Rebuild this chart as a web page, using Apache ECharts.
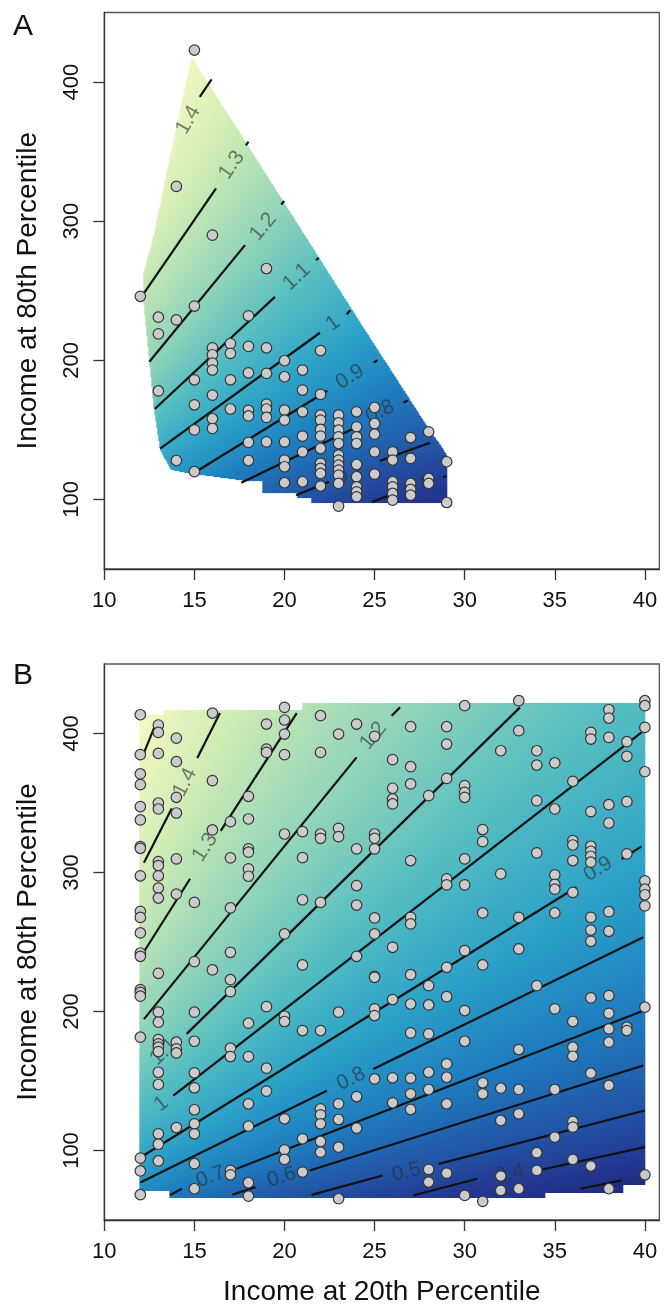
<!DOCTYPE html>
<html>
<head>
<meta charset="utf-8">
<script src="https://cdn.jsdelivr.net/npm/echarts@6/dist/echarts.min.js"></script>
<style>
  html, body { margin: 0; padding: 0; background: #fff; }
  #chart { width: 671px; height: 1310px; }
</style>
</head>
<body>
<div id="chart"></div>
<script>
"use strict";

// axis ticks
const xTicks = [10, 15, 20, 25, 30, 35, 40];
const yTicks = [100, 200, 300, 400];

// ---- panel A ----
const levelsA = [0.6, 0.7, 0.8, 0.9, 1.0, 1.1, 1.2, 1.3, 1.4];
// drawn contour pieces per level (gaps are where the labels sit)
const linesA = [
  [[[24.84, 98.2], [25.86, 103.1]], [[28.8, 116], [28.98, 116.8]]],
  [[[20.64, 103.1], [22.49, 112.7]], [[25.3, 127.7], [28.07, 140.7]]],
  [[[17.6, 112], [24.04, 152.2]], [[26.6, 169.6], [26.85, 171.1]]],
  [[[14.9, 118.5], [22.38, 178.1]], [[24.95, 198.3], [25.15, 200.2]]],
  [[[13.1, 136.6], [21.97, 219.8]], [[23.45, 233], [23.65, 236]]],
  [[[12.8, 165], [19.47, 245.6]], [[21.75, 272], [21.9, 273.6]]],
  [[[12.5, 199], [17.81, 282.8]], [[19.82, 312], [19.98, 314.5]]],
  [[[12.07, 245.7], [16.2, 323.6]], [[17.86, 354.5], [18.0, 357.2]]],
  [[[15.3, 389.4], [15.95, 402]]]
];
const labelsA = [[27.43, 109.1], [23.64, 118.7], [25.3, 163], [23.64, 188.1], [22.7, 226.5],
                 [20.68, 260], [18.82, 296], [17.07, 340.3], [14.66, 372.7]];
// outline of the shaded surface
const regionA = [[14.85, 418], [24.47, 221.7], [28.17, 147.4], [28.6, 140], [29.05, 131], [29.05, 96.8],
  [21.5, 96.8], [21.5, 100.5], [20.7, 100.5], [20.7, 104.4], [18.75, 104.4], [18.75, 112.7], [18.0, 112.7],
  [14.5, 118.8], [13.7, 121], [13.1, 135], [12.75, 165], [12.45, 205], [12.15, 245], [12.15, 262],
  [12.73, 289], [13.65, 346.5]];
// observed places, by 20th percentile income
const colsA = [
  [12, [246]],
  [13, [231, 219, 178]],
  [14, [325, 229, 128]],
  [15, [423, 239, 186, 168, 150, 120]],
  [16, [290, 209, 204, 198, 193, 175, 158, 151]],
  [17, [212, 205, 186, 165]],
  [18, [232, 210, 191, 164, 160, 141, 128]],
  [19, [266, 209, 190.6, 168.5, 165, 159, 141.4]],
  [20, [199.7, 188.2, 164.2, 157, 141.4, 128.3, 123.5, 112]],
  [21, [193, 178.6, 163, 145.5, 134.2, 112.7]],
  [22, [207, 175.5, 160.6, 157, 150.3, 145.5, 136.6, 125.9, 122.3, 118.7, 109.6]],
  [23, [160.6, 155.1, 149.8, 145, 140.2, 131.9, 128.3, 124.7, 121.1, 117.5, 111.5, 95.2]],
  [24, [163, 152.2, 145, 140.2, 125.1, 116.3, 109.1, 105.5, 101.9]],
  [25, [166.1, 154.6, 146.9, 134.2, 118.2]],
  [26, [134.2, 128.3, 112.7, 109.1, 104.3, 99.5]],
  [27, [144.5, 129.5, 111.5, 107.2, 103.1]],
  [28, [148.6, 115.1, 111.5]],
  [29, [127.1, 97.8]]
];

// ---- panel B ----
const levelsB = [0.3, 0.4, 0.5, 0.6, 0.7, 0.8, 0.9, 1.0, 1.1, 1.2, 1.3, 1.4, 1.5];
const linesB = [
  [[[36.43, 72.5], [38.7, 78.4]]],
  [[[27.13, 67.6], [30.7, 79.7]], [[34.05, 85.6], [40.0, 102.4]]],
  [[[21.5, 68.1], [25.45, 82]], [[28.56, 90.4], [40.0, 128.8]]],
  [[[17.1, 68.2], [18.4, 73.7]], [[21.4, 85.6], [39.91, 161.1]]],
  [[[13.65, 68], [14.3, 72.5]], [[17.34, 86.8], [39.91, 200.6]]],
  [[[12.0, 77], [22.35, 143]], [[24.93, 158.7], [39.91, 253.4]]],
  [[[12.2, 96.6], [36.2, 289.4]], [[38.71, 309.7], [39.82, 318.8]]],
  [[[13.83, 139.5], [39.82, 400.8]]],
  [[[14.57, 183.9], [33.07, 418.8]]],
  [[[12.2, 194.5], [24.0, 382.8]], [[25.95, 412.7], [26.41, 418.8]]],
  [[[12.2, 243], [14.76, 295.5]], [[16.46, 330], [20.68, 414.7]]],
  [[[12.2, 307], [13.74, 346]], [[15.16, 382.3], [16.42, 414.7]]],
  [[[12.2, 386], [12.94, 409.6]]]
];
const labelsB = [null, [32.5, 83.2], [26.77, 84.5], [19.85, 80.9], [15.9, 81], [23.7, 151.5], [37.41, 302.5],
                 [13.16, 133.5], [13.3, 171], [24.93, 398.3], [15.59, 318.1], [14.48, 364.8], null];
const regionB = [[11.95, 71], [11.95, 413], [13.3, 413], [13.3, 417], [21.0, 417], [21.0, 422], [40.05, 422],
  [40.05, 75], [38.8, 75], [38.8, 69.3], [34.5, 69.3], [34.5, 65.5], [13.6, 65.5], [13.6, 71]];
const colsB = [
  [12, [413.5, 384.8, 370.9, 363.2, 347.4, 337.8, 318.6, 317.4, 297.6, 272.1, 267.7, 256.5, 242.1, 239.7, 215.8, 213.8, 211, 181.5, 94.5, 85.3, 68.2]],
  [13, [406.1, 400.8, 385.7, 350, 345.7, 307.8, 305, 297.6, 288.8, 281.6, 227.5, 199.5, 192.3, 179.8, 176.7, 174.3, 171.2, 156.3, 147.5, 112, 104.5, 92.5]],
  [14, [396.7, 379.7, 354.1, 342.8, 309.8, 284.5, 177.9, 173.1, 170.2, 116.5]],
  [15, [278.5, 235.9, 199.5, 178.6, 155.9, 145.1, 129.3, 119.2, 112, 90.5, 72.5]],
  [16, [414.7, 366.1, 330.6, 229.9]],
  [17, [336.6, 310.5, 274.5, 242.6, 222.9, 214.3, 173.6, 167.6, 85.7, 82.5]],
  [18, [354.8, 338.5, 317, 314.6, 302.6, 297.3, 191.6, 167.6, 133.6, 117.5, 76.8, 67.2]],
  [19, [406.8, 388.8, 386.4, 203.5, 159.2, 142.7]],
  [20, [418.8, 409.7, 399.6, 384.8, 327.7, 255.8, 196.6, 192.8, 122.8, 100.5, 93.6]],
  [21, [329.4, 310.7, 280.4, 233.5, 186.3, 108.4, 84.5]],
  [22, [412.8, 386.4, 327.7, 324.6, 278.5, 186.3, 130, 125.7, 119.2, 106.5, 98.8]],
  [23, [399.6, 331.8, 325.8, 199.5, 133.6, 122.3, 102.4, 65.3]],
  [24, [406.8, 317, 290.6, 276.6, 239.7, 138.8, 116.1]],
  [25, [398, 327.7, 324.6, 317, 267.3, 255.8, 225.3, 224.6, 201.9, 197.1, 151.5]],
  [26, [381.2, 360.6, 352.9, 349.3, 246.2, 208.6, 152.3, 134.3]],
  [27, [404.9, 376.1, 363.7, 308.6, 267.7, 263, 226.5, 205.4, 184.6, 152, 140.8, 129.5]],
  [28, [355.3, 218.6, 204.7, 183.9, 156.3, 143.9, 86.4, 77.3]],
  [29, [404.9, 392.4, 367.7, 295.4, 291.1, 231.8, 210.7, 162.3, 152.7, 133.6, 83.7]],
  [30, [420, 362.5, 357.7, 354.1, 309.8, 291.1, 243.8, 200.7, 178.6, 67.7]],
  [31, [330.9, 322.2, 270.9, 233.5, 148.7, 140.8, 63.4]],
  [32, [387.6, 299, 144.8, 121.6, 81.6, 71.3]],
  [33, [423.6, 402, 267.7, 245, 172.6, 143.9, 126.4, 72.5]],
  [34, [387.6, 377.3, 351.7, 314.1, 218.6, 98.4, 85.7]],
  [35, [378.8, 345.7, 298.3, 291.5, 288, 270.9, 201.9, 143.9, 109.6]],
  [36, [365.6, 323, 319.8, 308.6, 285.7, 192.8, 174.3, 167.8, 120.9, 116.8, 93.6]],
  [37, [400.8, 396, 343.8, 318.9, 315.3, 311.7, 307.4, 267.7, 258.6, 250.5, 209.8, 155.6, 88.8]],
  [38, [417.1, 411.1, 397.2, 348.8, 335.6, 271.8, 257.7, 211.4, 198.7, 187.5, 177.9, 146.8, 72.5]],
  [39, [394.1, 383.6, 351, 313.4, 188.7, 186.3]],
  [40, [423.6, 420, 404.4, 372.5, 294, 288, 284, 276, 203.1, 82.5]]
];

// colour scale (YlGnBu-like), low -> high
const paletteStops = [
  [0.00, '#1b2476'], [0.12, '#233791'], [0.25, '#2258a8'], [0.38, '#1e7dbe'], [0.50, '#2a9fc8'],
  [0.62, '#52bcc2'], [0.75, '#93d5b9'], [0.88, '#cdebb4'], [1.00, '#f4f9c2']
];

const FONT = '"Liberation Sans", Arial, sans-serif';

function hexRgb(h) {
  return [parseInt(h.slice(1, 3), 16), parseInt(h.slice(3, 5), 16), parseInt(h.slice(5, 7), 16)];
}
const stopRgb = paletteStops.map(s => [s[0], hexRgb(s[1])]);
function colorAt(t) {
  t = Math.max(0, Math.min(1, t));
  for (let i = 0; i < stopRgb.length - 1; i++) {
    const a = stopRgb[i], b = stopRgb[i + 1];
    if (t <= b[0]) {
      const f = (t - a[0]) / (b[0] - a[0]);
      return [0, 1, 2].map(k => Math.round(a[1][k] + (b[1][k] - a[1][k]) * f));
    }
  }
  return stopRgb[stopRgb.length - 1][1];
}

// full polyline of a contour (pieces + label spot), ordered by x
function fullLine(lines, labels, i) {
  const pts = lines[i].flat().slice();
  if (labels[i]) pts.push(labels[i]);
  pts.sort((a, b) => a[0] - b[0]);
  return pts;
}

// signed distance to a polyline, positive on the high (upper-left) side
function sdist(px, py, pts) {
  let best = Infinity, s = 0;
  const n = pts.length;
  for (let i = 0; i < n - 1; i++) {
    const ax = pts[i][0], ay = pts[i][1];
    const dx = pts[i + 1][0] - ax, dy = pts[i + 1][1] - ay;
    const L2 = dx * dx + dy * dy;
    if (L2 < 1e-6) continue;
    let t = ((px - ax) * dx + (py - ay) * dy) / L2;
    if (i > 0 && t < 0) t = 0;
    if (i < n - 2 && t > 1) t = 1;
    const qx = ax + t * dx - px, qy = ay + t * dy - py;
    const d = Math.sqrt(qx * qx + qy * qy);
    if (d < best) {
      best = d;
      const cr = dx * (py - ay) - dy * (px - ax);
      s = cr > 0 ? -d : d;
    }
  }
  return s;
}

function insidePoly(poly, x, y) {
  let c = false;
  for (let i = 0, j = poly.length - 1; i < poly.length; j = i++) {
    const a = poly[i], b = poly[j];
    if ((a[1] > y) !== (b[1] > y) && x < (b[0] - a[0]) * (y - a[1]) / (b[1] - a[1]) + a[0]) c = !c;
  }
  return c;
}

// shaded surface, painted between the contour lines
function fillRenderer(levels, lines, labels, region, vmin, vmax) {
  let cache = null;
  return function (params, api) {
    const cs = params.coordSys;
    if (!cache) {
      const W = Math.round(cs.width), H = Math.round(cs.height);
      const toPx = p => { const c = api.coord(p); return [c[0] - cs.x, c[1] - cs.y]; };
      const full = levels.map((v, i) => fullLine(lines, labels, i).map(toPx));
      const poly = region.map(toPx);
      const xs = poly.map(p => p[0]), ys = poly.map(p => p[1]);
      const x0 = Math.max(0, Math.floor(Math.min(...xs))), x1 = Math.min(W, Math.ceil(Math.max(...xs)));
      const y0 = Math.max(0, Math.floor(Math.min(...ys))), y1 = Math.min(H, Math.ceil(Math.max(...ys)));
      const cv = document.createElement('canvas');
      cv.width = W; cv.height = H;
      const ctx = cv.getContext('2d');
      const img = ctx.createImageData(W, H);
      const n = levels.length;
      const s = new Array(n);
      for (let py = y0; py < y1; py++) {
        for (let px = x0; px < x1; px++) {
          const cx = px + 0.5, cy = py + 0.5;
          if (!insidePoly(poly, cx, cy)) continue;
          for (let k = 0; k < n; k++) s[k] = sdist(cx, cy, full[k]);
          let i = -1;
          for (let k = 0; k < n; k++) if (s[k] >= 0) i = k;
          if (i < 0) i = 0;
          if (i > n - 2) i = n - 2;
          const den = s[i] - s[i + 1];
          const v = den > 1e-6 ? levels[i] + (levels[i + 1] - levels[i]) * s[i] / den : levels[i];
          const c = colorAt((v - vmin) / (vmax - vmin));
          const o = (py * W + px) * 4;
          img.data[o] = c[0]; img.data[o + 1] = c[1]; img.data[o + 2] = c[2]; img.data[o + 3] = 255;
        }
      }
      ctx.putImageData(img, 0, 0);
      cache = cv;
    }
    return {
      type: 'image', silent: true,
      style: { image: cache, x: cs.x, y: cs.y, width: cs.width, height: cs.height }
    };
  };
}

function fillSeries(gi, levels, lines, labels, region, vmin, vmax) {
  return {
    type: 'custom', xAxisIndex: gi, yAxisIndex: gi, silent: true, z: 1,
    data: [[20, 200]],
    renderItem: fillRenderer(levels, lines, labels, region, vmin, vmax)
  };
}

function contourSeries(gi, lines) {
  const segs = lines.flat();
  return {
    type: 'custom', xAxisIndex: gi, yAxisIndex: gi, silent: true, z: 3,
    data: segs.map((sg, i) => [sg[0][0], sg[0][1], i]),
    renderItem: function (params, api) {
      const sg = segs[api.value(2)];
      return {
        type: 'polyline',
        shape: { points: sg.map(p => api.coord(p)) },
        style: { stroke: '#111', lineWidth: 2.2, fill: null }
      };
    }
  };
}

function labelSeries(gi, levels, lines, labels) {
  const items = [];
  labels.forEach((p, i) => { if (p) items.push([p[0], p[1], i]); });
  return {
    type: 'custom', xAxisIndex: gi, yAxisIndex: gi, silent: true, z: 4,
    data: items,
    renderItem: function (params, api) {
      const i = api.value(2);
      const pts = fullLine(lines, labels, i);
      const a = api.coord(pts[0]), b = api.coord(pts[pts.length - 1]);
      const ang = Math.atan2(-(b[1] - a[1]), b[0] - a[0]);
      const c = api.coord(labels[i]);
      return {
        type: 'text', x: c[0], y: c[1], rotation: ang,
        style: {
          text: String(levels[i]), x: 0, y: 0, align: 'center', verticalAlign: 'middle',
          fontSize: 21, fontFamily: FONT, fill: 'rgba(45,45,45,0.6)'
        }
      };
    }
  };
}

function pointSeries(gi, cols) {
  return {
    type: 'scatter', xAxisIndex: gi, yAxisIndex: gi, z: 5,
    data: cols.flatMap(c => c[1].map(y => [c[0], y])),
    symbol: 'circle', symbolSize: 10.5,
    itemStyle: { color: '#cbcbcb', borderColor: '#363636', borderWidth: 1.2, opacity: 1 },
    emphasis: { disabled: true }
  };
}

function xAxisCfg(gi, title) {
  return {
    type: 'value', gridIndex: gi, min: 10, max: 40.8,
    axisLine: { show: true, onZero: false, lineStyle: { color: '#333', width: 1.3 } },
    axisTick: { show: true, length: 11, customValues: xTicks, lineStyle: { color: '#333', width: 1.3 } },
    axisLabel: { customValues: xTicks, margin: 21, fontSize: 22, color: '#111', fontFamily: FONT },
    splitLine: { show: false },
    name: title, nameLocation: 'middle', nameGap: 58,
    nameTextStyle: { fontSize: 28, color: '#111', fontFamily: FONT }
  };
}

function yAxisCfg(gi) {
  return {
    type: 'value', gridIndex: gi, min: 50, max: 450,
    axisLine: { show: true, onZero: false, lineStyle: { color: '#333', width: 1.3 } },
    axisTick: { show: true, length: 11, customValues: yTicks, lineStyle: { color: '#333', width: 1.3 } },
    axisLabel: { customValues: yTicks, rotate: 90, margin: 21, fontSize: 22, color: '#111', fontFamily: FONT },
    splitLine: { show: false },
    name: 'Income at 80th Percentile', nameLocation: 'middle', nameGap: 62,
    nameTextStyle: { fontSize: 28, color: '#111', fontFamily: FONT }
  };
}

const chart = echarts.init(document.getElementById('chart'), null, { renderer: 'canvas' });
chart.setOption({
  animation: false,
  backgroundColor: '#fff',
  grid: [
    { left: 104.3, top: 12.5, width: 555, height: 556.5, show: true, borderColor: '#555', borderWidth: 1.3, backgroundColor: 'transparent' },
    { left: 104.3, top: 664, width: 555, height: 556, show: true, borderColor: '#555', borderWidth: 1.3, backgroundColor: 'transparent' }
  ],
  xAxis: [xAxisCfg(0, ''), xAxisCfg(1, 'Income at 20th Percentile')],
  yAxis: [yAxisCfg(0), yAxisCfg(1)],
  graphic: [
    { type: 'text', left: 13, top: 12, style: { text: 'A', fontSize: 30, fontFamily: FONT, fill: '#111' } },
    { type: 'text', left: 13, top: 661, style: { text: 'B', fontSize: 30, fontFamily: FONT, fill: '#111' } }
  ],
  series: [
    fillSeries(0, levelsA, linesA, labelsA, regionA, 0.45, 1.45),
    contourSeries(0, linesA),
    labelSeries(0, levelsA, linesA, labelsA),
    pointSeries(0, colsA),
    fillSeries(1, levelsB, linesB, labelsB, regionB, 0.2, 1.53),
    contourSeries(1, linesB),
    labelSeries(1, levelsB, linesB, labelsB),
    pointSeries(1, colsB)
  ]
});
</script>
</body>
</html>
